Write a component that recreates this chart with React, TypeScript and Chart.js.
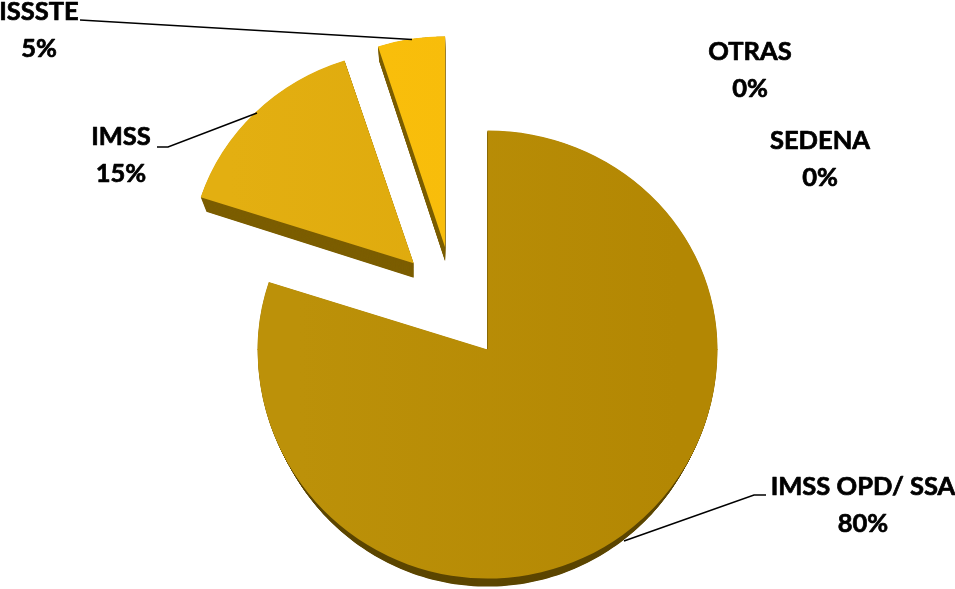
import React, { useEffect, useRef } from "react";
import { Chart, registerables } from "chart.js";

Chart.register(...registerables);

const categories = ["IMSS OPD/ SSA", "IMSS", "ISSSTE", "OTRAS", "SEDENA"];
const shares = [80, 15, 5, 0, 0];

// slice appearance
const faceLight = ["#BC9109", "#E3AF11", "#FAC00C", "#C0C0C0", "#C0C0C0"];
const faceDark = ["#B38703", "#DCA70B", "#F6BA09", "#C0C0C0", "#C0C0C0"];
const wallColor = ["#5C4600", "#7C5E00", "#7C5E00", "#000", "#000"];
const explode = [57, 57, 57, 0, 0];
const radiusX = [230, 224, 217, 0, 0];
const radiusUp = [219, 213, 211, 0, 0];
const radiusDown = [229, 213, 211, 0, 0];
const wallDepth = [8, 14.5, 14, 0, 0];
const wallInset = [5, 6, 3, 0, 0];

// label layout: centre x, first line y
const labelX = [863, 121, 39, 750, 820];
const labelY = [487, 137, 12, 52, 141];
const lineGap = 36.5;
const leaders: number[][][] = [
  [[766, 495], [754, 495], [624, 541]],
  [[157, 147], [168, 147], [257, 113]],
  [[80, 20], [412, 39.5]],
];

const FONT = "bold 25.5px Lato, 'Open Sans', sans-serif";

function sectorPath(
  ctx: CanvasRenderingContext2D,
  ax: number,
  ay: number,
  rx: number,
  up: number,
  down: number,
  start: number,
  end: number
) {
  ctx.beginPath();
  ctx.moveTo(ax, ay);
  const steps = 240;
  for (let i = 0; i <= steps; i++) {
    const a = start + ((end - start) * i) / steps;
    const s = Math.sin(a);
    ctx.lineTo(ax + Math.cos(a) * rx, ay + s * (s < 0 ? up : down));
  }
  ctx.closePath();
}

const piePerspective = {
  id: "piePerspective",
  afterDatasetsUpdate(chart: any) {
    const meta = chart.getDatasetMeta(0);
    meta.data.forEach((arc: any, i: number) => {
      if (arc.__wrapped) return;
      arc.__wrapped = true;
      const original = arc.draw.bind(arc);
      arc.draw = (ctx: CanvasRenderingContext2D) => {
        if (!arc.circumference) return;
        const mid = (arc.startAngle + arc.endAngle) / 2;
        const ax = arc.x + Math.cos(mid) * explode[i];
        const ay = arc.y + Math.sin(mid) * explode[i];
        const R = arc.outerRadius;
        // extruded side wall, narrowing with depth
        ctx.save();
        ctx.fillStyle = wallColor[i];
        for (let d = wallDepth[i]; d > 0; d -= 0.5) {
          const inset = (wallInset[i] * d) / wallDepth[i];
          sectorPath(ctx, ax, ay + d, radiusX[i] - inset, radiusUp[i], radiusDown[i], arc.startAngle, arc.endAngle);
          ctx.fill();
        }
        ctx.restore();
        // face: drawn by the library, stretched about the slice's apex
        const face = (ry: number, clipTop: number, clipBottom: number) => {
          ctx.save();
          ctx.beginPath();
          ctx.rect(0, clipTop, chart.width, clipBottom - clipTop);
          ctx.clip();
          ctx.translate(ax, ay);
          ctx.scale(radiusX[i] / R, ry / R);
          ctx.translate(-arc.x, -arc.y);
          original(ctx);
          ctx.restore();
        };
        if (radiusUp[i] === radiusDown[i]) {
          face(radiusUp[i], 0, chart.height);
        } else {
          face(radiusDown[i], ay - 0.5, chart.height);
          face(radiusUp[i], 0, ay + 0.5);
        }
      };
    });
  },
  afterDraw(chart: any) {
    const ctx: CanvasRenderingContext2D = chart.ctx;
    ctx.save();
    ctx.strokeStyle = "#000";
    ctx.lineWidth = 1.5;
    leaders.forEach((pts) => {
      ctx.beginPath();
      pts.forEach((p, k) => (k ? ctx.lineTo(p[0], p[1]) : ctx.moveTo(p[0], p[1])));
      ctx.stroke();
    });
    ctx.fillStyle = "#000";
    ctx.font = FONT;
    ctx.textAlign = "center";
    ctx.textBaseline = "middle";
    ctx.lineWidth = 0.7;
    ctx.lineJoin = "round";
    categories.forEach((name, i) => {
      const pct = `${shares[i]}%`;
      ctx.fillText(name, labelX[i], labelY[i]);
      ctx.strokeText(name, labelX[i], labelY[i]);
      ctx.fillText(pct, labelX[i], labelY[i] + lineGap);
      ctx.strokeText(pct, labelX[i], labelY[i] + lineGap);
    });
    ctx.restore();
  },
};

export default function App() {
  const ref = useRef<HTMLCanvasElement>(null);
  useEffect(() => {
    const canvas = ref.current!;
    const ctx = canvas.getContext("2d")!;
    const fills = shares.map((_, i) => {
      const g = ctx.createLinearGradient(220, 0, 690, 0);
      g.addColorStop(0, faceLight[i]);
      g.addColorStop(1, faceDark[i]);
      return g;
    });
    const chart = new Chart(canvas, {
      type: "pie",
      data: {
        labels: categories,
        datasets: [{ data: shares, backgroundColor: fills, borderWidth: 0 }],
      },
      options: {
        responsive: false,
        animation: false,
        devicePixelRatio: 1,
        rotation: 0,
        layout: { padding: { left: 0, right: 47, top: 18, bottom: 0 } },
        plugins: { legend: { display: false }, tooltip: { enabled: false } },
      },
      plugins: [piePerspective],
    } as any);
    return () => chart.destroy();
  }, []);
  return (
    <div style={{ position: "fixed", left: 0, top: 0, width: 955, height: 589, background: "#fff" }}>
      <canvas ref={ref} width={955} height={589} style={{ display: "block" }} />
    </div>
  );
}
